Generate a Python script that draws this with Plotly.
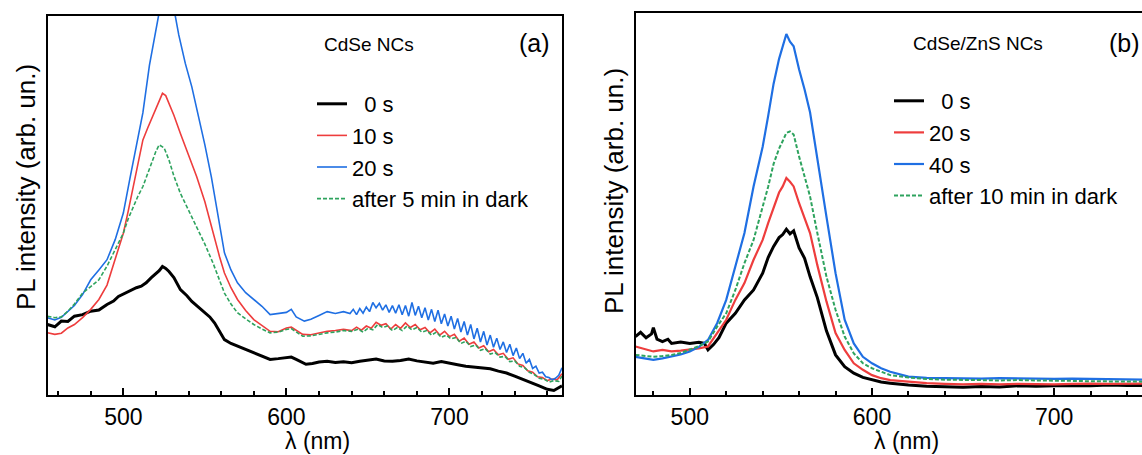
import plotly.graph_objects as go

# ---------------- Panel (a): CdSe NCs ----------------
a_black_x = [453.5, 458, 462, 466, 470, 475, 480, 485, 490, 494, 497, 501, 505, 508, 511, 514, 517, 520, 522, 524, 526, 528, 531, 535, 539, 542, 546, 550, 553, 556, 559, 562, 566, 570, 575, 580, 585, 590, 595, 600, 603, 606, 609, 612, 616, 620, 625, 630, 635, 640, 645, 650, 655, 660, 665, 670, 675, 680, 685, 690, 695, 700, 705, 710, 715, 720, 725, 730, 735, 740, 745, 750, 755, 760, 764, 769]
a_black_y = [18.6, 18.0, 19.5, 19.4, 20.8, 21.2, 22.1, 22.4, 23.9, 24.8, 26.0, 26.8, 27.8, 28.3, 28.7, 29.6, 30.9, 32.0, 32.8, 33.9, 33.4, 32.6, 31.0, 27.8, 26.2, 24.7, 23.2, 21.7, 20.6, 19.0, 16.8, 14.6, 13.6, 12.9, 12.0, 11.1, 10.2, 9.4, 9.6, 9.8, 10.0, 9.4, 8.7, 8.1, 8.3, 8.7, 8.9, 8.6, 8.8, 8.5, 8.9, 9.2, 9.5, 9.0, 8.9, 9.1, 9.5, 9.0, 8.8, 8.4, 8.8, 8.5, 8.0, 7.6, 7.4, 7.2, 6.9, 6.3, 5.8, 5.0, 4.2, 3.2, 2.4, 1.5, 1.2, 2.4]

a_red_x = [453.5, 458, 462, 466, 470, 475, 480, 485, 490, 495, 500, 503, 506, 509, 512, 515, 518, 521, 524, 526, 528, 531, 535, 540, 545, 550, 555, 559, 562, 566, 570, 575, 580, 585, 590, 595, 600, 603, 606, 610, 615, 620, 625, 630, 635, 640, 643, 646, 649, 652, 655, 658, 661, 664, 667, 670, 673, 676, 679, 682, 685, 688, 691, 694, 697, 700, 703, 706, 709, 712, 715, 718, 721, 724, 727, 730, 733, 736, 739, 742, 745, 748, 751, 754, 757, 760, 763, 766, 769]
a_red_y = [16.4, 16.0, 16.3, 17.7, 18.6, 20.4, 22.6, 25.2, 29.0, 35.7, 42.7, 48.5, 55.0, 61.0, 67.3, 70.5, 73.4, 76.6, 79.6, 79.0, 76.9, 73.8, 69.0, 63.4, 57.6, 51.0, 42.7, 36.5, 32.2, 28.3, 25.2, 22.3, 19.9, 18.3, 16.8, 16.7, 17.7, 17.9, 17.1, 16.0, 15.9, 16.4, 16.8, 17.0, 17.3, 17.0, 17.9, 17.1, 18.2, 17.6, 19.2, 18.4, 18.8, 17.4, 18.6, 17.6, 19.0, 17.8, 18.6, 17.2, 17.8, 16.4, 17.4, 15.8, 16.8, 15.4, 16.0, 14.2, 15.0, 13.4, 14.0, 12.4, 13.0, 11.4, 12.0, 10.6, 11.0, 9.4, 9.8, 8.2, 7.8, 6.4, 6.0, 4.8, 4.6, 3.8, 4.2, 4.0, 5.6]

a_blue_x = [453.5, 458, 462, 466, 470, 475, 480, 485, 490, 495, 500, 504, 508, 512, 516, 519, 522, 526, 531, 534, 538, 542, 546, 550, 554, 558, 562, 566, 570, 575, 580, 585, 590, 595, 600, 603, 606, 611, 615, 620, 625, 630, 635, 639, 641, 643, 645, 647, 649, 651, 653, 655, 657, 659, 661, 663, 665, 667, 669, 671, 673, 675, 677, 679, 681, 683, 685, 687, 689, 691, 693, 695, 697, 699, 701, 703, 705, 707, 709, 711, 713, 715, 717, 719, 721, 723, 725, 727, 729, 731, 733, 735, 737, 739, 741, 743, 745, 747, 749, 751, 753, 755, 757, 759, 761, 763, 765, 767, 769]
a_blue_y = [20.4, 19.8, 20.5, 22.1, 23.6, 26.5, 30.4, 33.0, 35.7, 41.0, 48.0, 57.0, 66.0, 74.5, 87.0, 94.0, 101.0, 102.0, 102.0, 95.0, 87.5, 81.3, 74.0, 66.0, 57.5, 47.1, 37.5, 33.0, 29.6, 27.0, 25.2, 23.4, 21.2, 21.5, 21.8, 22.6, 20.6, 19.5, 20.0, 21.0, 22.0, 21.5, 22.0, 21.5, 22.6, 21.2, 22.8, 21.6, 23.2, 22.0, 24.4, 23.0, 24.2, 22.4, 23.8, 21.8, 23.6, 21.6, 23.8, 21.2, 23.6, 20.8, 24.4, 21.0, 23.4, 20.4, 23.0, 19.8, 22.6, 19.4, 22.4, 18.8, 21.4, 18.2, 20.8, 17.4, 20.2, 16.6, 19.4, 15.8, 18.6, 14.8, 17.6, 14.0, 16.8, 13.2, 15.8, 12.6, 15.0, 12.0, 14.0, 11.2, 13.4, 10.4, 12.4, 9.6, 11.0, 8.4, 9.4, 7.0, 7.6, 5.8, 6.0, 4.8, 4.6, 4.0, 4.4, 5.2, 7.2]

a_green_x = [453.5, 458, 462, 466, 470, 475, 480, 485, 490, 495, 500, 503, 506, 509, 512, 515, 518, 520, 522, 525, 528, 531, 535, 540, 545, 550, 555, 559, 562, 566, 570, 575, 580, 585, 590, 595, 600, 603, 606, 610, 615, 620, 625, 630, 635, 640, 644, 647, 650, 653, 656, 659, 662, 665, 668, 671, 674, 677, 680, 683, 686, 689, 692, 695, 698, 701, 704, 707, 710, 713, 716, 719, 722, 725, 728, 731, 734, 737, 740, 743, 746, 749, 752, 755, 758, 761, 764, 767, 769]
a_green_y = [20.8, 20.4, 20.6, 22.1, 24.0, 26.9, 28.6, 30.4, 34.0, 38.3, 42.7, 46.5, 49.7, 52.5, 55.0, 58.4, 62.0, 64.3, 66.0, 65.2, 62.0, 57.8, 53.2, 48.8, 44.5, 39.8, 34.8, 30.2, 26.9, 24.0, 21.7, 20.1, 18.6, 17.4, 16.4, 16.6, 17.3, 17.5, 16.6, 15.5, 15.6, 16.0, 16.4, 16.6, 17.0, 16.8, 17.4, 16.6, 17.6, 17.2, 18.6, 17.8, 18.2, 17.0, 17.8, 17.0, 18.2, 17.2, 17.8, 16.6, 17.0, 15.8, 16.6, 15.2, 15.8, 14.8, 15.2, 13.6, 14.2, 12.8, 13.2, 11.8, 12.2, 10.8, 11.2, 10.0, 10.2, 8.8, 9.0, 7.6, 7.2, 6.0, 5.4, 4.4, 4.2, 3.4, 3.8, 3.6, 5.0]

# ---------------- Panel (b): CdSe/ZnS NCs ----------------
b_black_x = [470.2, 473, 476, 479, 480, 482, 485, 488, 490, 495, 500, 505, 508, 510, 513, 516, 520, 525, 530, 535, 540, 543, 546, 549, 551, 553, 555, 557, 560, 563, 566, 570, 575, 580, 585, 590, 595, 600, 605, 610, 620, 630, 640, 650, 660, 670, 680, 690, 700, 710, 720, 730, 740, 748.2]
b_black_y = [15.3, 16.4, 15.0, 16.0, 17.6, 14.6, 14.0, 14.6, 13.5, 13.9, 13.5, 13.8, 13.5, 11.8, 13.2, 15.0, 18.8, 21.4, 24.9, 27.5, 31.9, 36.0, 38.9, 41.2, 42.0, 43.4, 42.2, 43.0, 38.5, 35.8, 31.0, 25.5, 16.8, 10.5, 7.4, 5.7, 4.6, 3.9, 3.4, 3.1, 2.6, 2.3, 2.2, 2.0, 2.2, 2.1, 2.4, 2.3, 2.4, 2.5, 2.4, 2.6, 2.5, 2.5]

b_red_x = [470.2, 475, 480, 485, 490, 495, 500, 505, 510, 515, 520, 525, 530, 535, 540, 543, 546, 549, 551, 553, 555, 557, 560, 563, 566, 570, 575, 580, 585, 590, 595, 600, 605, 610, 620, 630, 640, 650, 660, 670, 680, 690, 700, 710, 720, 730, 740, 748.2]
b_red_y = [12.7, 12.0, 11.4, 11.8, 11.4, 11.6, 11.8, 12.2, 12.7, 16.2, 19.7, 24.9, 29.3, 35.4, 40.6, 45.0, 49.3, 53.0, 54.6, 56.8, 55.8, 54.6, 50.2, 46.5, 42.4, 34.0, 24.5, 16.2, 11.8, 8.3, 6.6, 5.2, 4.4, 3.9, 3.5, 3.1, 2.9, 2.8, 2.9, 2.8, 2.9, 2.8, 2.8, 2.9, 3.0, 2.9, 3.0, 3.0]

b_blue_x = [470.2, 475, 480, 485, 490, 495, 500, 505, 510, 515, 520, 525, 530, 535, 540, 543, 546, 549, 551, 553, 555, 557, 560, 563, 566, 570, 575, 580, 585, 590, 595, 600, 605, 610, 620, 630, 640, 650, 660, 670, 680, 690, 700, 710, 720, 730, 740, 748.2]
b_blue_y = [10.0, 9.6, 9.2, 9.6, 10.0, 10.6, 11.4, 12.6, 14.4, 18.8, 24.9, 33.6, 42.4, 54.6, 65.0, 73.0, 81.5, 88.0, 91.0, 94.5, 92.5, 91.3, 85.2, 80.0, 74.0, 61.6, 46.7, 31.9, 19.7, 13.5, 10.0, 8.3, 7.0, 6.1, 4.8, 4.5, 4.4, 4.4, 4.3, 4.4, 4.3, 4.2, 4.2, 4.3, 4.2, 4.1, 4.0, 4.0]

b_green_x = [470.2, 475, 480, 485, 490, 495, 500, 505, 510, 515, 520, 525, 530, 535, 540, 543, 546, 549, 551, 553, 555, 557, 560, 563, 566, 570, 575, 580, 585, 590, 595, 600, 605, 610, 620, 630, 640, 650, 660, 670, 680, 690, 700, 710, 720, 730, 740, 748.2]
b_green_y = [10.5, 10.2, 10.0, 10.2, 10.5, 11.0, 11.8, 12.8, 14.0, 17.9, 21.4, 27.5, 34.5, 40.6, 49.3, 54.5, 60.5, 64.5, 66.5, 68.6, 69.0, 68.2, 62.4, 57.5, 52.0, 42.4, 31.0, 22.3, 15.3, 10.9, 8.3, 7.0, 6.0, 5.2, 4.6, 4.2, 4.0, 4.0, 3.9, 3.8, 3.9, 3.8, 3.8, 3.7, 3.6, 3.6, 3.5, 3.5]

a_names = ["\u00a0\u00a00 s", "10 s", "20 s", "after 5 min in dark"]
b_names = ["\u00a0\u00a00 s", "20 s", "40 s", "after 10 min in dark"]
x_ticks = [500, 600, 700]

BLACK = "#000000"
RED = "#ee3d3d"
BLUE = "#1f6fe3"
GREEN = "#2ea35e"
FONT = "Arial, Liberation Sans, sans-serif"

W, H = 1142, 455


def px(x):
    return x / W


def py(y):
    return 1 - y / H


fig = go.Figure()

series_a = [
    (a_black_x, a_black_y, BLACK, 3.0, "solid"),
    (a_red_x, a_red_y, RED, 1.6, "solid"),
    (a_blue_x, a_blue_y, BLUE, 1.6, "solid"),
    (a_green_x, a_green_y, GREEN, 1.6, "4px,2px"),
]
series_b = [
    (b_black_x, b_black_y, BLACK, 3.0, "solid"),
    (b_red_x, b_red_y, RED, 2.2, "solid"),
    (b_blue_x, b_blue_y, BLUE, 2.2, "solid"),
    (b_green_x, b_green_y, GREEN, 2.0, "4px,2px"),
]

for (xs, ys, c, w, d), name in zip(series_a, a_names):
    fig.add_trace(go.Scatter(x=xs, y=ys, mode="lines", name=name,
                             line=dict(color=c, width=w, dash=d),
                             xaxis="x", yaxis="y", legend="legend"))
for (xs, ys, c, w, d), name in zip(series_b, b_names):
    fig.add_trace(go.Scatter(x=xs, y=ys, mode="lines", name=name,
                             line=dict(color=c, width=w, dash=d),
                             xaxis="x2", yaxis="y2", legend="legend2"))

xcommon = dict(
    tickmode="array", tickvals=x_ticks, ticktext=[str(v) for v in x_ticks],
    ticks="inside", ticklen=7, tickwidth=1.5, tickcolor="black",
    minor=dict(dtick=20, tick0=500, ticks="inside", ticklen=4, tickwidth=1.5, tickcolor="black"),
    showline=True, linecolor="black", linewidth=2, mirror=True,
    showgrid=False, zeroline=False,
    tickfont=dict(family=FONT, size=23, color="black"),
)
ycommon = dict(showticklabels=False, ticks="", showgrid=False, zeroline=False,
               showline=True, linecolor="black", linewidth=2, range=[0, 100])

fig.update_layout(
    width=W, height=H,
    margin=dict(l=0, r=0, t=0, b=0),
    paper_bgcolor="white", plot_bgcolor="white",
    font=dict(family=FONT, color="black"),
    xaxis=dict(domain=[px(47.5), px(562)], range=[453.5, 769], anchor="y", **xcommon),
    yaxis=dict(domain=[py(395), py(16)], anchor="x", mirror=True, **ycommon),
    xaxis2=dict(domain=[px(635.5), 1.0], range=[470.2, 748.2], anchor="y2", **xcommon),
    yaxis2=dict(domain=[py(395), py(13)], anchor="x2", mirror=False, **ycommon),
    legend=dict(x=px(312), y=py(83), xanchor="left", yanchor="top",
                bgcolor="rgba(0,0,0,0)", font=dict(family=FONT, size=22, color="black"),
                tracegroupgap=0, itemwidth=30, traceorder="normal"),
    legend2=dict(x=px(889), y=py(80), xanchor="left", yanchor="top",
                 bgcolor="rgba(0,0,0,0)", font=dict(family=FONT, size=22, color="black"),
                 tracegroupgap=0, itemwidth=30, traceorder="normal"),
    showlegend=True,
)

ann = [
    dict(text="CdSe NCs", x=px(369), y=py(45), size=19),
    dict(text="(a)", x=px(534), y=py(43), size=25),
    dict(text="CdSe/ZnS NCs", x=px(978), y=py(43), size=19),
    dict(text="(b)", x=px(1124), y=py(43), size=25),
    dict(text="\u03bb (nm)", x=px(317), y=py(441), size=23),
    dict(text="\u03bb (nm)", x=px(906), y=py(441), size=23),
]
for a in ann:
    fig.add_annotation(text=a["text"], x=a["x"], y=a["y"], xref="paper", yref="paper",
                       xanchor="center", yanchor="middle", showarrow=False,
                       font=dict(family=FONT, size=a["size"], color="black"))
for xc, yc in [(26, 187), (614, 191)]:
    fig.add_annotation(text="PL intensity (arb. un.)", x=px(xc), y=py(yc), xref="paper", yref="paper",
                       xanchor="center", yanchor="middle", showarrow=False, textangle=-90,
                       font=dict(family=FONT, size=26, color="black"))

fig.write_html("out.html")
